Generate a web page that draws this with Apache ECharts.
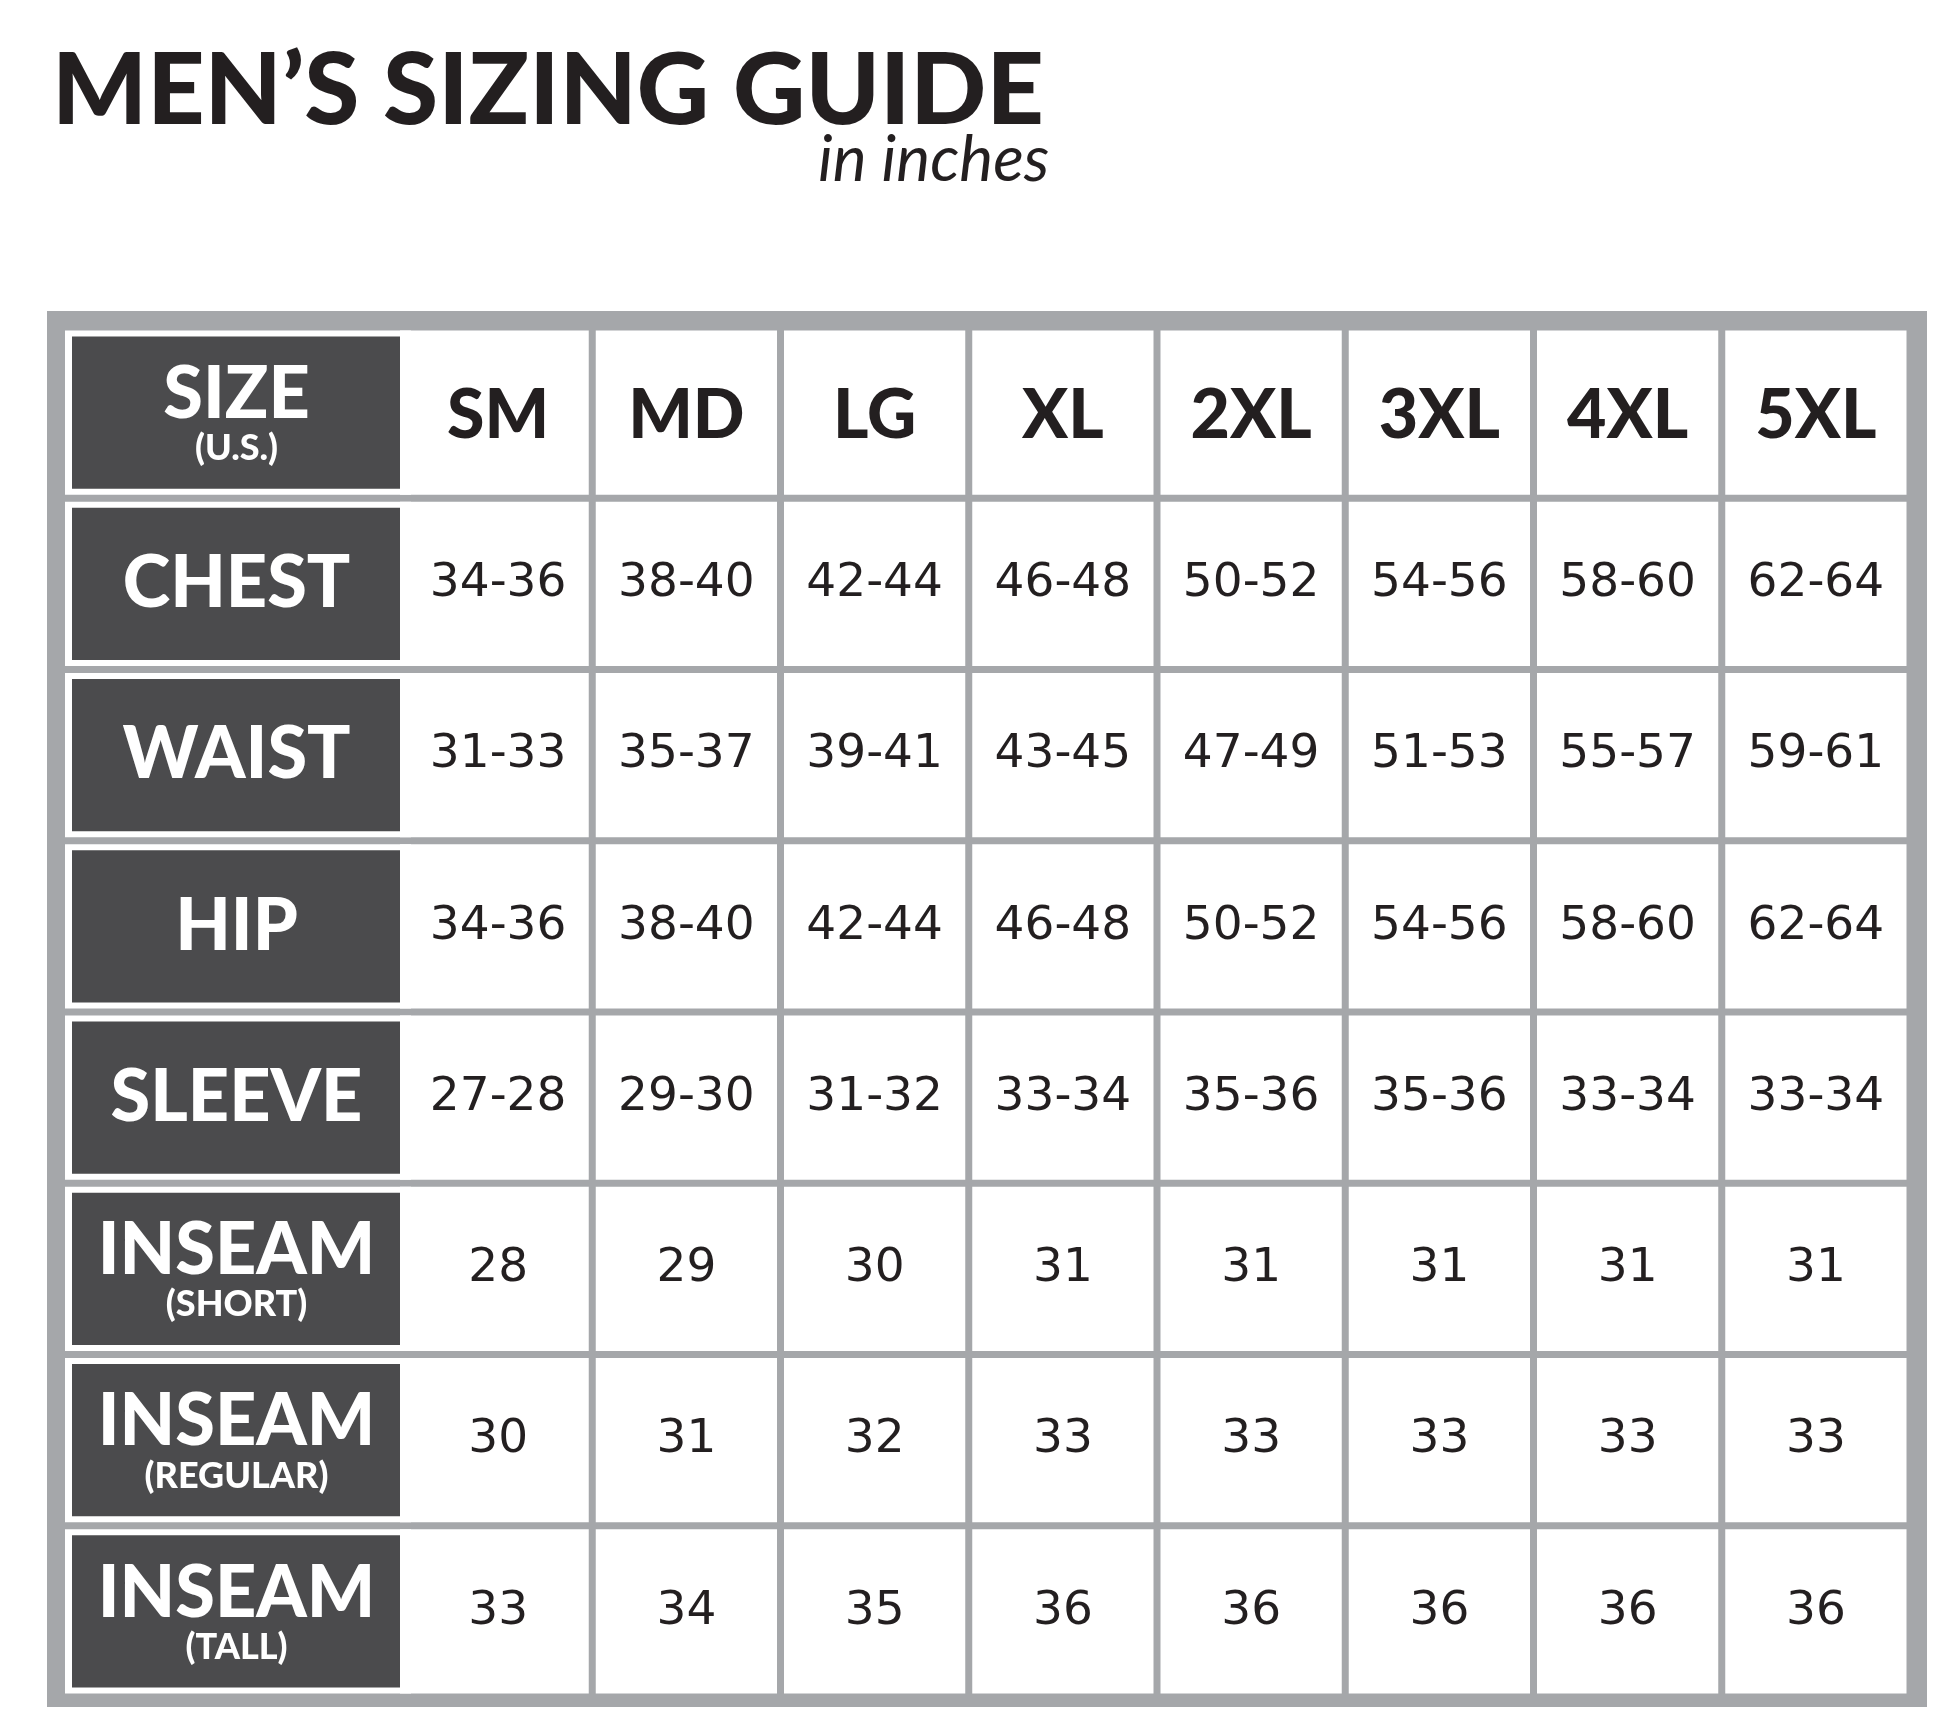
<!DOCTYPE html>
<html>
<head>
<meta charset="utf-8">
<script src="https://cdn.jsdelivr.net/npm/echarts@6/dist/echarts.min.js"></script>
<style>
  html, body { margin: 0; padding: 0; background: #fff; }
  #chart { width: 1943px; height: 1733px; }
</style>
</head>
<body>
<div id="chart"></div>
<script>
var sizes = ['SM', 'MD', 'LG', 'XL', '2XL', '3XL', '4XL', '5XL'];
var rowNames = ['SIZE', 'CHEST', 'WAIST', 'HIP', 'SLEEVE', 'INSEAM', 'INSEAM', 'INSEAM'];
var rowSubs = ['(U.S.)', '', '', '', '', '(SHORT)', '(REGULAR)', '(TALL)'];
var chest = ['34-36', '38-40', '42-44', '46-48', '50-52', '54-56', '58-60', '62-64'];
var waist = ['31-33', '35-37', '39-41', '43-45', '47-49', '51-53', '55-57', '59-61'];
var hip = ['34-36', '38-40', '42-44', '46-48', '50-52', '54-56', '58-60', '62-64'];
var sleeve = ['27-28', '29-30', '31-32', '33-34', '35-36', '35-36', '33-34', '33-34'];
var inseamShort = ['28', '29', '30', '31', '31', '31', '31', '31'];
var inseamRegular = ['30', '31', '32', '33', '33', '33', '33', '33'];
var inseamTall = ['33', '34', '35', '36', '36', '36', '36', '36'];

var rows = [sizes, chest, waist, hip, sleeve, inseamShort, inseamRegular, inseamTall];
var rowCats = rowNames.map(function (n, i) { return 'r' + i; });

var cells = [];
rows.forEach(function (vals, r) {
  // label cell (column -1)
  cells.push({ value: [0, r, -1] });
  vals.forEach(function (v, c) {
    cells.push({ value: [c, r, c] });
  });
});

var gray = '#a5a7aa';
var dark = '#4b4b4d';
var labelW = 336;   // label column to the left of SM

var myChart = echarts.init(document.getElementById('chart'));
var option = {
  backgroundColor: '#fff',
  animation: false,
  graphic: [
    { type: 'rect', z: -1, shape: { x: 47, y: 311, width: 1880, height: 1396 }, style: { fill: gray } },
    { type: 'text', left: 52, top: 42, style: { text: 'MEN\u2019S SIZING GUIDE', fill: '#231f20', font: '900 100px Lato, "DejaVu Sans", sans-serif' } },
    { type: 'text', left: 818, top: 128, style: { text: 'in inches', fill: '#231f20', font: 'italic 400 64px Lato, "DejaVu Sans", sans-serif' } }
  ],
  grid: { left: 404, top: 327, width: 1506, height: 1370 },
  xAxis: { type: 'category', data: sizes, show: false },
  yAxis: { type: 'category', data: rowCats, inverse: true, show: false },
  series: [{
    type: 'custom',
    data: cells,
    renderItem: function (params, api) {
      var c = api.value(0), r = api.value(1), kind = api.value(2);
      var p = api.coord([c, r]);
      var s = api.size([1, 1]);
      var x0 = p[0] - s[0] / 2, y0 = p[1] - s[1] / 2;
      var ins = 3.5;
      if (kind === -1) {
        var lx = x0 - labelW - 3;
        var children = [
          { type: 'rect', shape: { x: lx, y: y0 + ins, width: labelW + 10, height: s[1] - 2 * ins }, style: { fill: '#fff' } },
          { type: 'rect', shape: { x: lx + 7, y: y0 + ins + 6, width: labelW - 7, height: s[1] - 2 * ins - 12 }, style: { fill: dark } }
        ];
        var cx = lx + 7 + (labelW - 7) / 2;
        var sub = rowSubs[r];
        children.push({ type: 'text', style: { text: rowNames[r], x: cx, y: p[1] + (sub ? -18 : 0), align: 'center', verticalAlign: 'middle', fill: '#fff', font: '900 72px Lato, "DejaVu Sans", sans-serif' } });
        if (sub) {
          children.push({ type: 'text', style: { text: sub, x: cx, y: p[1] + 36, align: 'center', verticalAlign: 'middle', fill: '#fff', font: '900 36px Lato, "DejaVu Sans", sans-serif' } });
        }
        return { type: 'group', children: children };
      }
      var isHead = r === 0;
      return {
        type: 'group',
        children: [
          { type: 'rect', shape: { x: x0 + (c === 0 ? -4 : ins), y: y0 + ins, width: s[0] - 2 * ins + (c === 0 ? 7.5 : 0), height: s[1] - 2 * ins }, style: { fill: '#fff' } },
          { type: 'text', style: { text: rows[r][c], x: p[0], y: p[1] + (isHead ? 3 : 0), align: 'center', verticalAlign: 'middle', fill: '#231f20',
            font: isHead ? '900 68px Lato, "DejaVu Sans", sans-serif' : '400 47px "DejaVu Sans", Roboto, sans-serif' } }
        ]
      };
    }
  }]
};
myChart.setOption(option);
</script>
</body>
</html>
